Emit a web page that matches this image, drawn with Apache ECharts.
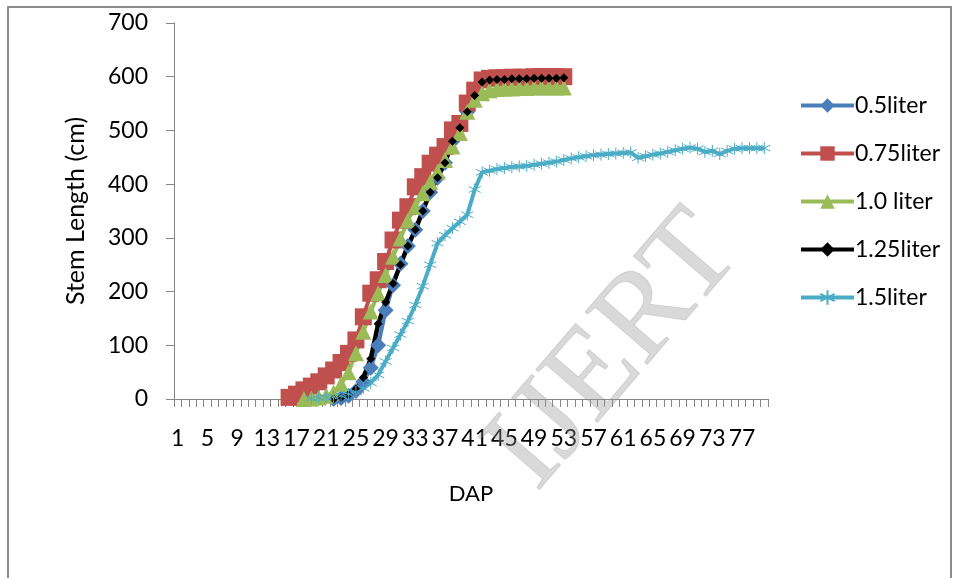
<!DOCTYPE html>
<html>
<head>
<meta charset="utf-8">
<script src="https://cdn.jsdelivr.net/npm/echarts@6/dist/echarts.min.js"></script>
<style>html,body{margin:0;padding:0;background:#fff}#c{width:958px;height:578px}</style>
</head>
<body>
<div id="c"></div>
<script>
// ---- data ----
const dapCount = 80;
const categories = Array.from({length: dapCount}, (_, i) => String(i + 1));
const seriesNames = ['0.5liter', '0.75liter', '1.0 liter', '1.25liter', '1.5liter'];
const yTicks = [0, 100, 200, 300, 400, 500, 600, 700];

// start DAP and values for each treatment
const start05 = 22;
const values05 = [0, 2, 6, 15, 32, 58, 100, 165, 212, 252, 285, 315, 350, 385, 412, 440, 480, 505, 535, 565, 590, 594, 595, 595, 596, 596, 596, 597, 597, 597, 597, 598];
const start075 = 16;
const values075 = [3, 9, 17, 24, 32, 43, 54, 68, 85, 110, 153, 197, 222, 256, 296, 333, 358, 395, 414, 439, 454, 470, 501, 513, 551, 575, 594, 597, 598, 598, 599, 599, 599, 600, 600, 600, 600, 600];
const start10 = 18;
const values10 = [0, 1, 3, 6, 12, 28, 50, 85, 125, 163, 197, 231, 265, 299, 333, 358, 383, 404, 423, 445, 470, 495, 535, 557, 569, 575, 577, 578, 578, 579, 579, 580, 580, 580, 580, 580];
const start125 = 22;
const values125 = [0, 3, 8, 18, 40, 75, 140, 180, 215, 250, 285, 315, 350, 385, 412, 440, 480, 505, 535, 565, 590, 594, 595, 595, 596, 596, 596, 597, 597, 597, 597, 598];
const start15 = 19;
const values15 = [1, 2, 3, 4, 6, 9, 13, 20, 30, 45, 70, 95, 120, 145, 175, 210, 250, 290, 305, 318, 330, 343, 390, 422, 425, 428, 430, 432, 433, 434, 436, 438, 440, 442, 445, 448, 450, 452, 454, 455, 456, 457, 458, 459, 449, 452, 455, 457, 460, 463, 466, 468, 466, 460, 462, 456, 462, 466, 467, 467, 467, 467];

function pad(startDap, vals) {
  const out = new Array(dapCount).fill(null);
  vals.forEach((v, i) => { out[startDap - 1 + i] = v; });
  return out;
}

const FONT = 'Lato';
const chart = echarts.init(document.getElementById('c'), null, {renderer: 'canvas'});

function lineSeries(name, data, color, symbol, size, width, extra) {
  return Object.assign({
    name: name, type: 'line', data: data,
    symbol: symbol, symbolSize: size,
    showSymbol: true, showAllSymbol: true,
    connectNulls: false,
    lineStyle: {color: color, width: width},
    itemStyle: {color: color},
    animation: false
  }, extra || {});
}

const starPath = 'path://M5,0 L5,10 M0.7,2.5 L9.3,7.5 M0.7,7.5 L9.3,2.5';

chart.setOption({
  animation: false,
  backgroundColor: '#fff',
  grid: {left: 174, right: 190, top: 23, bottom: 179, containLabel: false},
  xAxis: {
    type: 'category', data: categories, boundaryGap: true,
    name: 'DAP', nameLocation: 'middle', nameGap: 84,
    nameTextStyle: {fontFamily: FONT, fontSize: 22, color: '#000'},
    axisLine: {lineStyle: {color: '#868686', width: 1}},
    axisTick: {show: true, interval: 0, length: 8, lineStyle: {color: '#868686'}},
    axisLabel: {interval: 3, margin: 28, fontFamily: FONT, fontSize: 23, color: '#000'},
    splitLine: {show: false}
  },
  yAxis: {
    type: 'value', min: yTicks[0], max: yTicks[yTicks.length - 1], interval: 100,
    name: 'Stem Length (cm)', nameLocation: 'middle', nameGap: 86,
    nameTextStyle: {fontFamily: FONT, fontSize: 25, color: '#000'},
    axisLine: {show: true, lineStyle: {color: '#868686', width: 1}},
    axisTick: {show: true, length: 8, lineStyle: {color: '#868686'}},
    axisLabel: {margin: 26, fontFamily: FONT, fontSize: 23, color: '#000'},
    splitLine: {show: false}
  },
  legend: {
    orient: 'vertical', left: 794, top: 88,
    itemWidth: 53, itemHeight: 18, itemGap: 23,
    lineStyle: {width: 4},
    textStyle: {fontFamily: FONT, fontSize: 23, color: '#000', lineHeight: 25, padding: [0, 0, 0, -4]},
    data: seriesNames
  },
  graphic: [
    {type: 'rect', shape: {x: 8, y: 7, width: 943, height: 600}, style: {fill: 'none', stroke: '#8c8c8c', lineWidth: 2}, silent: true, z: -1},
    {type: 'text', x: 615, y: 352, rotation: 0.86, silent: true, z: 100,
     style: {text: 'IJERT', fontFamily: 'Liberation Serif', fontSize: 124, fill: 'rgba(150,150,150,0.36)', stroke: 'rgba(120,120,120,0.22)', lineWidth: 1, align: 'center', verticalAlign: 'middle'}}
  ],
  series: [
    lineSeries(seriesNames[0], pad(start05, values05), '#4A7EBB', 'diamond', 16, 4),
    lineSeries(seriesNames[1], pad(start075, values075), '#C0504D', 'rect', 17, 4),
    lineSeries(seriesNames[2], pad(start10, values10), '#9BBB59', 'triangle', 16, 4),
    lineSeries(seriesNames[3], pad(start125, values125), '#000000', 'diamond', 9, 4.5),
    lineSeries(seriesNames[4], pad(start15, values15), '#4BACC6', starPath, 12, 4,
      {itemStyle: {color: '#4BACC6', borderColor: '#4BACC6', borderWidth: 1}})
  ]
});
</script>
</body>
</html>
